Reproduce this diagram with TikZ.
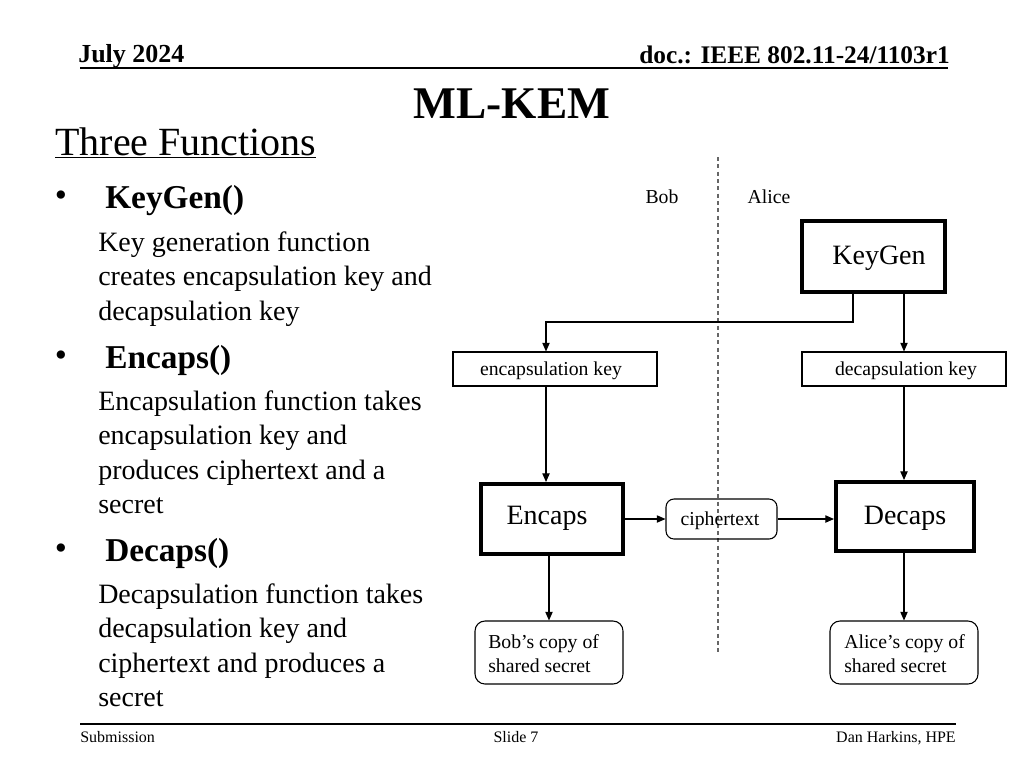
\documentclass[tikz,border=0pt]{standalone}
\usepackage{fontspec}
\setmainfont{Liberation Serif}
\usetikzlibrary{arrows.meta,calc}
\begin{document}
\begin{tikzpicture}[x=0.75pt,y=-0.75pt,
  txt/.style={inner sep=0pt,anchor=base west},
  body/.style={txt,font=\fontsize{21}{25}\selectfont},
  head/.style={txt,font=\fontsize{25}{30}\selectfont\bfseries},
  bul/.style={inner sep=0pt,anchor=base,font=\fontsize{26}{30}\selectfont},
  small/.style={font=\fontsize{14.8}{18}\selectfont},
  lbl/.style={small,inner sep=0pt,anchor=base},
  big/.style={inner sep=0pt,anchor=base,font=\fontsize{21}{25}\selectfont},
  thinbox/.style={draw,line width=0.8pt,inner sep=0pt},
  thickbox/.style={draw,line width=3pt,inner sep=0pt},
  roundbox/.style={draw,line width=0.8pt,rounded corners=6pt,inner sep=0pt},
  arr/.style={line width=0.8pt,-{Triangle[length=6.5pt,width=5.5pt]}},
  rule/.style={line width=1.5pt}]
\useasboundingbox (0,0) rectangle (1024,768);

% header
\node[txt,font=\fontsize{19.5}{24}\selectfont\bfseries] (date) at (78,62) {July 2024};
\node[inner sep=0pt,anchor=base east,font=\fontsize{19}{24}\selectfont\bfseries] (doc) at (950,63) {doc.: IEEE 802.11-24/1103r1};
\coordinate (hl) at (80,68);
\coordinate (hr) at (948,68);
\draw[rule] (hl) -- (hr);
\node[inner sep=0pt,anchor=base,font=\fontsize{34}{40}\selectfont\bfseries] (title) at (512,118) {ML-KEM};
\node[txt,font=\fontsize{30}{36}\selectfont] (sub) at (55,155) {\underline{Three Functions}};

% left text
\node[bul] (b1) at (61,206) {•};
\node[head] (h1) at (105,208) {KeyGen()};
\node[body] (t11) at (98,251) {Key generation function};
\node[body] (t12) at (98,285.5) {creates encapsulation key and};
\node[body] (t13) at (98,320) {decapsulation key};

\node[bul] (b2) at (61,366) {•};
\node[head] (h2) at (105,368) {Encaps()};
\node[body] (t21) at (98,410) {Encapsulation function takes};
\node[body] (t22) at (98,444.5) {encapsulation key and};
\node[body] (t23) at (98,479) {produces ciphertext and a};
\node[body] (t24) at (98,513) {secret};

\node[bul] (b3) at (61,559) {•};
\node[head] (h3) at (105,561) {Decaps()};
\node[body] (t31) at (98,603) {Decapsulation function takes};
\node[body] (t32) at (98,637.5) {decapsulation key and};
\node[body] (t33) at (98,672) {ciphertext and produces a};
\node[body] (t34) at (98,706) {secret};

% divider
\coordinate (dtop) at (718,157);
\coordinate (dbot) at (718,652);
\draw[gray!80!black,line width=0.8pt,dash pattern=on 3pt off 2.5pt] (dtop) -- (dbot);
\node[lbl] (bob) at (662,203) {Bob};
\node[lbl] (alice) at (769,203) {Alice};

% boxes
\node[thickbox,minimum width=107.25pt,minimum height=53.25pt] (kg) at (873.5,256.5) {};
\node[big] (kgt) at (879,264) {KeyGen};
\node[thinbox,minimum width=153pt,minimum height=25.5pt] (ek) at (555,369) {};
\node[lbl] (ekt) at (551,375.5) {encapsulation key};
\node[thinbox,minimum width=153pt,minimum height=25.5pt] (dk) at (904,369) {};
\node[lbl] (dkt) at (906,375.5) {decapsulation key};
\node[thickbox,minimum width=106.5pt,minimum height=52.5pt] (en) at (552,519) {};
\node[big] (ent) at (547,524) {Encaps};
\node[thickbox,minimum width=103.5pt,minimum height=51.75pt] (de) at (905,516.5) {};
\node[big] (det) at (905,524) {Decaps};
\node[roundbox,minimum width=83.25pt,minimum height=30pt] (ct) at (721.5,519) {};
\node[lbl] (ctt) at (720,525.5) {ciphertext};
\node[roundbox,minimum width=111pt,minimum height=47.25pt,rounded corners=7.5pt] (bs) at (549,652.5) {};
\node[small,txt] (bst1) at (488,648.5) {Bob’s copy of};
\node[small,txt] (bst2) at (488,672.5) {shared secret};
\node[roundbox,minimum width=111pt,minimum height=47.25pt,rounded corners=7.5pt] (as) at (904,652.5) {};
\node[small,txt] (ast1) at (844,648.5) {Alice’s copy of};
\node[small,txt] (ast2) at (844,672.5) {shared secret};

% connectors
\draw[arr] ([xshift=-15.4pt]kg.south) -- ++(0,28) -| ([xshift=-6.75pt]ek.north);
\draw[arr] (kg.south -| dk.north) -- (dk.north);
\draw[arr] ([xshift=-6.75pt]ek.south) -- ([xshift=-6.75pt]ek.south |- en.north);
\draw[arr] (dk.south) -- (dk.south |- de.north);
\draw[arr] (en.east) -- (ct.west);
\draw[arr] (ct.east) -- (ct.east -| de.west);
\draw[arr] ([xshift=-2.25pt]en.south) -- ([xshift=-2.25pt]en.south |- bs.north);
\draw[arr] ([xshift=-0.75pt]de.south) -- ([xshift=-0.75pt]de.south |- as.north);

% footer
\coordinate (fl) at (80,724);
\coordinate (fr) at (956,724);
\draw[rule] (fl) -- (fr);
\node[txt,font=\fontsize{12}{14}\selectfont] (f1) at (80,742) {Submission};
\node[inner sep=0pt,anchor=base,font=\fontsize{12}{14}\selectfont] (f2) at (516,742) {Slide 7};
\node[inner sep=0pt,anchor=base east,font=\fontsize{12}{14}\selectfont] (f3) at (956,742) {Dan Harkins, HPE};
\end{tikzpicture}
\end{document}
